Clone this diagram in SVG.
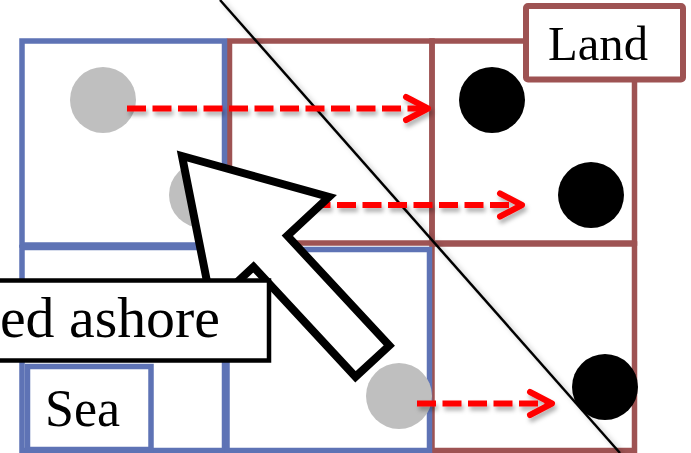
<svg xmlns="http://www.w3.org/2000/svg" width="691" height="453" viewBox="0 0 691 453">
<defs>
<style>
.sea{fill:none;stroke:#5E73B5;stroke-width:5.5}
.land{fill:none;stroke:#9E5353;stroke-width:5.5}
.gray{fill:#BFBFBF}
.blk{fill:#000}
.dash{fill:none;stroke:#FF0000;stroke-width:6;stroke-dasharray:19 6.5}
.head{fill:none;stroke:#FF0000;stroke-width:6;stroke-linecap:round;stroke-linejoin:round;stroke-dasharray:none}
.lbl{font-family:"Liberation Serif","Times New Roman",serif;fill:#000}
</style>
<filter id="sh" x="-10%" y="-50%" width="120%" height="200%">
<feDropShadow dx="2" dy="4" stdDeviation="2" flood-color="#000" flood-opacity="0.3"/>
</filter>
<filter id="sh2" x="-10%" y="-10%" width="120%" height="120%">
<feDropShadow dx="3" dy="2" stdDeviation="2.5" flood-color="#000" flood-opacity="0.25"/>
</filter>
<marker id="chev" markerUnits="userSpaceOnUse" markerWidth="40" markerHeight="40" viewBox="-30 -20 40 40" refX="0" refY="0" orient="auto">
<path class="head" d="M -19 -11.5 L 3 0 L -19 11.5"/>
</marker>
</defs>
<rect width="691" height="453" fill="#fff"/>
<g id="cells-land">
<g id="cell-r1c2"><rect class="land" x="229.5" y="41" width="202.5" height="202"/></g>
<g id="cell-r1c3"><rect class="land" x="432" y="41" width="202.5" height="202"/></g>
<g id="cell-r2c3"><rect class="land" x="432" y="244" width="202.5" height="206.5"/></g>
</g>
<g id="cells-sea">
<g id="cell-r1c1"><rect class="sea" x="22" y="41" width="202.5" height="204"/></g>
<g id="cell-r2c1"><rect class="sea" x="22" y="247.5" width="202.5" height="203"/></g>
<g id="cell-r2c2"><rect class="sea" x="227" y="249.5" width="202.5" height="201"/></g>
</g>
<g id="coastline">
<line x1="220" y1="0" x2="620" y2="453" stroke="#000" stroke-width="2.5" filter="url(#sh2)"/>
</g>
<g id="circles">
<g id="g1"><circle class="gray" cx="103" cy="100" r="33"/></g>
<g id="g2"><circle class="gray" cx="202" cy="195" r="33"/></g>
<g id="g3"><circle class="gray" cx="399" cy="396" r="33"/></g>
<g id="b1"><circle class="blk" cx="492" cy="100" r="33"/></g>
<g id="b2"><circle class="blk" cx="591" cy="195" r="33"/></g>
<g id="b3"><circle class="blk" cx="605" cy="387" r="33"/></g>
</g>
<g id="connectors" filter="url(#sh)">
<path class="dash" d="M 127 108.5 L 425 108.5" marker-end="url(#chev)"/>
<path class="dash" d="M 235 205 L 519 205" marker-end="url(#chev)"/>
<path class="dash" d="M 417 403.5 L 549 403.5" marker-end="url(#chev)"/>
</g>
<g id="big-arrow">
<polygon points="182,156 329,196.9 287.3,235.7 389.3,345.6 355.5,376.8 253.5,266.9 211.8,305.7" fill="#fff" stroke="#000" stroke-width="8" stroke-linejoin="miter"/>
</g>
<g id="ashore-label">
<rect x="-10" y="280.5" width="279" height="80" fill="#fff" stroke="#000" stroke-width="4.5"/>
<text class="lbl" x="-29" y="337" font-size="56" textLength="249" lengthAdjust="spacingAndGlyphs">ned ashore</text>
</g>
<g id="land-label">
<rect x="526" y="6" width="157" height="73.5" rx="2" fill="#fff" stroke="#9E5353" stroke-width="6"/>
<text class="lbl" x="548" y="60" font-size="48" textLength="100" lengthAdjust="spacingAndGlyphs">Land</text>
</g>
<g id="sea-label">
<rect x="27.5" y="366.5" width="123.5" height="83" fill="#fff" stroke="#5E73B5" stroke-width="5.5"/>
<text class="lbl" x="45" y="426" font-size="52" textLength="75" lengthAdjust="spacingAndGlyphs">Sea</text>
</g>
</svg>
